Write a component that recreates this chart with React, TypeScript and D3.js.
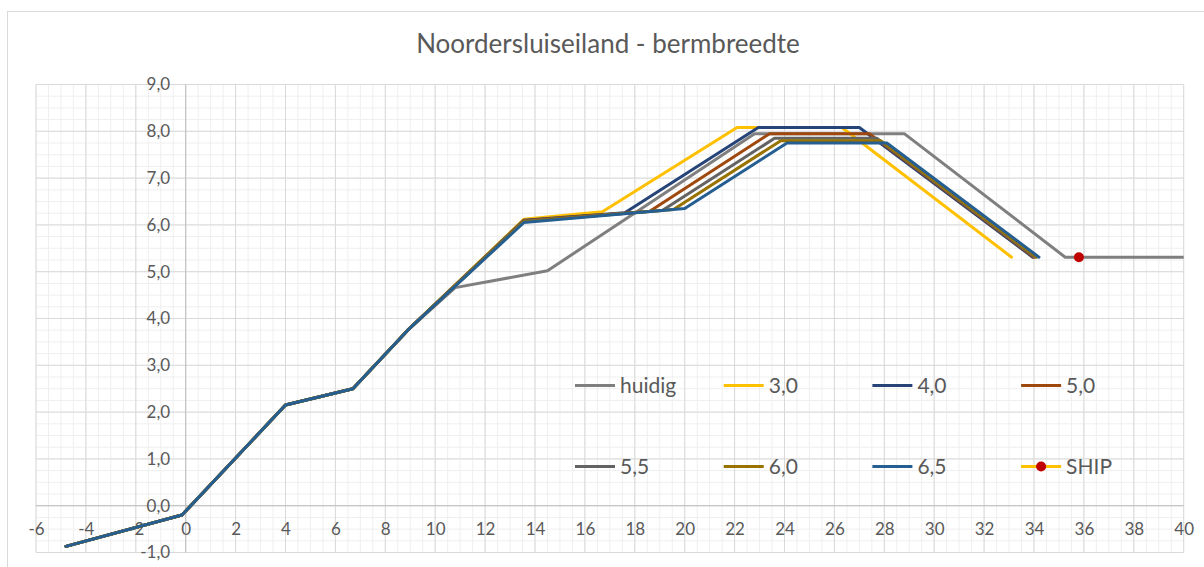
import { useEffect, useRef } from "react";
import * as d3 from "d3";

// profile points [x (m), height (m)]
const huidig: [number, number][] = [
  [-4.8, -0.87], [-0.15, -0.2], [4.0, 2.15], [6.7, 2.5], [8.9, 3.75], [10.8, 4.66],
  [14.5, 5.02], [22.8, 7.95], [28.8, 7.95], [35.25, 5.31], [42, 5.31],
];
const berm30: [number, number][] = [
  [-4.8, -0.87], [-0.15, -0.2], [4.0, 2.15], [6.7, 2.5], [8.9, 3.75], [13.55, 6.12],
  [16.7, 6.28], [22.1, 8.08], [26.3, 8.08], [33.1, 5.31],
];
const berm40: [number, number][] = [
  [-4.8, -0.87], [-0.15, -0.2], [4.0, 2.15], [6.7, 2.5], [8.9, 3.75], [13.55, 6.1],
  [17.6, 6.26], [22.95, 8.08], [27.0, 8.08], [33.95, 5.31],
];
const berm50: [number, number][] = [
  [-4.8, -0.87], [-0.15, -0.2], [4.0, 2.15], [6.7, 2.5], [8.9, 3.75], [13.55, 6.09],
  [18.6, 6.29], [23.4, 7.95], [27.4, 7.95], [34.0, 5.31],
];
const berm55: [number, number][] = [
  [-4.8, -0.87], [-0.15, -0.2], [4.0, 2.15], [6.7, 2.5], [8.9, 3.75], [13.55, 6.08],
  [19.1, 6.31], [23.6, 7.85], [27.7, 7.85], [34.05, 5.31],
];
const berm60: [number, number][] = [
  [-4.8, -0.87], [-0.15, -0.2], [4.0, 2.15], [6.7, 2.5], [8.9, 3.75], [13.55, 6.07],
  [19.55, 6.33], [23.85, 7.8], [27.85, 7.8], [34.1, 5.31],
];
const berm65: [number, number][] = [
  [-4.8, -0.87], [-0.15, -0.2], [4.0, 2.15], [6.7, 2.5], [8.9, 3.75], [13.55, 6.05],
  [20.0, 6.35], [24.1, 7.75], [28.1, 7.75], [34.2, 5.31],
];
const ship: [number, number][] = [[35.8, 5.31]];

const seriesNames = ["huidig", "3,0", "4,0", "5,0", "5,5", "6,0", "6,5", "SHIP"];
const seriesData = [huidig, berm30, berm40, berm50, berm55, berm60, berm65, ship];
const seriesColors = ["#7f7f7f", "#ffc000", "#264478", "#9e480e", "#636363", "#997300", "#255e91", "#ffc000"];

const xTicks = d3.range(-6, 41, 2);
const yTicks = d3.range(-1, 9.01, 1);

const title = "Noordersluiseiland - bermbreedte";

const nl = d3.formatLocale({ decimal: ",", thousands: ".", grouping: [3], currency: ["€", ""], minus: "-" });

const App = () => {
  const ref = useRef<SVGSVGElement>(null);

  useEffect(() => {
    const svg = d3.select(ref.current);
    svg.selectAll("*").remove();

    const x = d3.scaleLinear().domain([-6, 40]).range([36, 1183.7]);
    const y = d3.scaleLinear().domain([-1, 9]).range([552.5, 84.5]);

    // chart area border
    svg.append("rect")
      .attr("x", 7.5).attr("y", 11.5)
      .attr("width", 1300).attr("height", 700)
      .attr("fill", "#fff").attr("stroke", "#d9d9d9");

    svg.append("text")
      .attr("x", 608).attr("y", 53)
      .attr("text-anchor", "middle")
      .attr("font-size", 26)
      .attr("fill", "#595959")
      .text(title);

    const grid = svg.append("g");
    // minor gridlines
    grid.selectAll(".mx").data(d3.range(-6, 40.01, 0.5)).join("line")
      .attr("x1", d => x(d)).attr("x2", d => x(d))
      .attr("y1", y(-1)).attr("y2", y(9))
      .attr("stroke", "#efefef");
    grid.selectAll(".my").data(d3.range(-1, 9.001, 0.25)).join("line")
      .attr("y1", d => y(d)).attr("y2", d => y(d))
      .attr("x1", x(-6)).attr("x2", x(40))
      .attr("stroke", "#efefef");
    // major gridlines
    grid.selectAll(".Mx").data(xTicks).join("line")
      .attr("x1", d => x(d)).attr("x2", d => x(d))
      .attr("y1", y(-1)).attr("y2", y(9))
      .attr("stroke", "#d9d9d9");
    grid.selectAll(".My").data(yTicks).join("line")
      .attr("y1", d => y(d)).attr("y2", d => y(d))
      .attr("x1", x(-6)).attr("x2", x(40))
      .attr("stroke", "#d9d9d9");
    // axis lines
    grid.append("line")
      .attr("x1", x(0)).attr("x2", x(0)).attr("y1", y(-1)).attr("y2", y(9))
      .attr("stroke", "#bfbfbf");
    grid.append("line")
      .attr("y1", y(0)).attr("y2", y(0)).attr("x1", x(-6)).attr("x2", x(40))
      .attr("stroke", "#bfbfbf");

    const xAxis = d3.axisBottom(x).tickValues(xTicks).tickSize(0).tickPadding(17)
      .tickFormat(d => nl.format("d")(d as number));
    const yAxis = d3.axisLeft(y).tickValues(yTicks).tickSize(0).tickPadding(15.5)
      .tickFormat(d => nl.format(".1f")(d as number));

    const xg = svg.append("g").attr("transform", `translate(0,${y(0)})`).call(xAxis);
    const yg = svg.append("g").attr("transform", `translate(${x(0)},0)`).call(yAxis);
    [xg, yg].forEach(g => {
      g.select(".domain").remove();
      g.selectAll("text").attr("font-size", 17).attr("font-family", "Lato").attr("fill", "#595959");
    });

    svg.append("clipPath").attr("id", "plotclip")
      .append("rect")
      .attr("x", x(-6)).attr("y", y(9))
      .attr("width", x(40) - x(-6)).attr("height", y(-1) - y(9));

    const line = d3.line<[number, number]>()
      .x(d => x(d[0]))
      .y(d => y(d[1]));

    const plot = svg.append("g").attr("clip-path", "url(#plotclip)");
    seriesData.forEach((data, i) => {
      plot.append("path")
        .datum(data)
        .attr("d", line)
        .attr("fill", "none")
        .attr("stroke", seriesColors[i])
        .attr("stroke-width", 3)
        .attr("stroke-linejoin", "round")
        .attr("stroke-linecap", "round");
    });
    plot.selectAll(".ship").data(ship).join("circle")
      .attr("cx", d => x(d[0])).attr("cy", d => y(d[1]))
      .attr("r", 5).attr("fill", "#c00000");

    // legend
    const legend = svg.append("g");
    seriesNames.forEach((name, i) => {
      const lx = 575 + (i % 4) * 148.7;
      const ly = i < 4 ? 385.5 : 466.5;
      const g = legend.append("g").attr("transform", `translate(${lx},${ly})`);
      g.append("line")
        .attr("x1", 0).attr("x2", 40)
        .attr("stroke", seriesColors[i]).attr("stroke-width", 3);
      if (name === "SHIP") {
        g.append("circle").attr("cx", 20).attr("r", 5).attr("fill", "#c00000");
      }
      g.append("text")
        .attr("x", 45).attr("dy", "0.35em")
        .attr("font-size", 21)
        .attr("fill", "#595959")
        .text(name);
    });
  }, []);

  return (
    <svg
      ref={ref}
      width={1204}
      height={567}
      style={{ position: "absolute", left: 0, top: 0, fontFamily: "Lato" }}
    />
  );
};

export default App;
